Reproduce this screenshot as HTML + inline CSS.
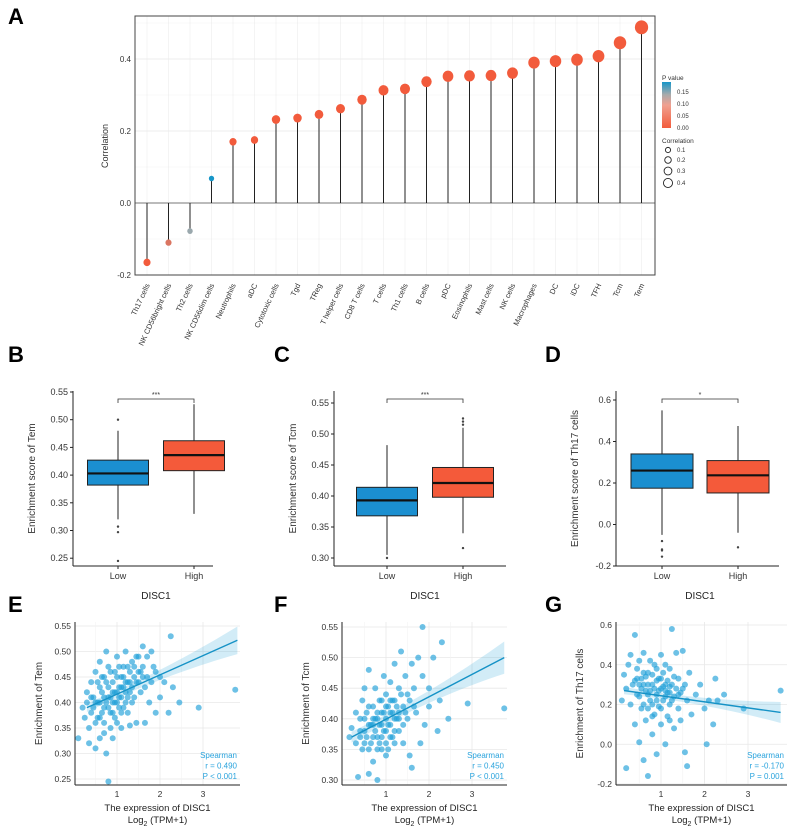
<!DOCTYPE html>
<html><head><meta charset="utf-8"><style>
body{margin:0;background:#fff}
svg{display:block;font-family:"Liberation Sans",sans-serif}
</style></head><body>
<svg id="fig" width="789" height="832" viewBox="0 0 789 832"></svg>
<script>
// ---- Panel A data ----
const cells=["Th17 cells","NK CD56bright cells","Th2 cells","NK CD56dim cells","Neutrophils","aDC","Cytotoxic cells","Tgd","TReg","T helper cells","CD8 T cells","T cells","Th1 cells","B cells","pDC","Eosinophils","Mast cells","NK cells","Macrophages","DC","iDC","TFH","Tcm","Tem"];
const corrs=[-0.165,-0.11,-0.078,0.068,0.17,0.175,0.232,0.236,0.246,0.262,0.287,0.313,0.317,0.337,0.352,0.353,0.354,0.361,0.39,0.394,0.398,0.408,0.445,0.488];
const pvals=[0.0,0.03,0.10,0.18,0,0,0,0,0,0,0,0,0,0,0,0,0,0,0,0,0,0,0,0];
const aTicks=[-0.2,0.0,0.2,0.4];
// ---- Box data [min,q1,med,q3,max] ----
const boxB_low=[0.32,0.382,0.403,0.427,0.48], boxB_high=[0.33,0.408,0.436,0.462,0.528];
const outB_low=[0.50,0.307,0.297,0.245], outB_high=[];
const boxC_low=[0.305,0.368,0.393,0.414,0.482], boxC_high=[0.34,0.398,0.421,0.446,0.51];
const outC_low=[0.30], outC_high=[0.515,0.52,0.525,0.316];
const boxD_low=[-0.05,0.175,0.26,0.34,0.55], boxD_high=[-0.04,0.152,0.237,0.308,0.475];
const outD_low=[-0.08,-0.12,-0.125,-0.155], outD_high=[-0.11];
const ticksB=[0.25,0.30,0.35,0.40,0.45,0.50,0.55], ticksC=[0.30,0.35,0.40,0.45,0.50,0.55], ticksD=[-0.2,0.0,0.2,0.4,0.6];
// ---- Scatter data ----
const ptsE=[[0.1,.33],[0.2,.39],[0.25,.37],[0.3,.40],[0.3,.42],[0.35,.35],[0.4,.38],[0.4,.44],[0.45,.41],[0.5,.31],[0.5,.36],[0.5,.46],[0.55,.40],[0.6,.33],[0.6,.43],[0.6,.48],[0.65,.38],[0.7,.41],[0.7,.45],[0.7,.36],[0.75,.30],[0.75,.50],[0.8,.39],[0.8,.43],[0.8,.47],[0.85,.35],[0.85,.41],[0.9,.44],[0.9,.38],[0.9,.33],[0.95,.42],[0.95,.46],[1.0,.40],[1.0,.36],[1.0,.49],[1.05,.43],[1.05,.39],[1.1,.45],[1.1,.41],[1.1,.35],[1.15,.47],[1.15,.43],[1.2,.40],[1.2,.50],[1.25,.44],[1.25,.38],[1.3,.46],[1.3,.42],[1.35,.48],[1.4,.41],[1.4,.45],[1.45,.36],[1.5,.44],[1.5,.49],[1.55,.42],[1.6,.47],[1.6,.51],[1.65,.36],[1.7,.45],[1.75,.40],[1.8,.50],[1.85,.47],[1.9,.38],[2.0,.45],[2.0,.41],[2.1,.44],[2.2,.38],[2.25,.53],[2.3,.43],[2.45,.40],[2.9,.39],[3.75,.425],[0.8,.245],[0.35,.32],[1.3,.355],[0.6,.40],[1.0,.45],[1.2,.42],[0.7,.34],[1.5,.46],[0.4,.41],[0.9,.42],[1.1,.38],[0.55,.44],[1.35,.40],
[0.45,.39],[0.55,.37],[0.65,.42],[0.75,.40],[0.75,.44],[0.85,.38],[0.85,.46],[0.95,.40],[0.95,.37],[1.05,.41],[1.05,.47],[1.15,.39],[1.15,.45],[1.25,.41],[1.25,.47],[1.35,.43],[1.45,.44],[1.45,.49],[1.55,.46],[1.65,.43],[1.7,.49],[1.8,.44],[0.65,.45],[0.9,.40],[1.0,.42],[1.1,.43],[1.2,.44],[0.8,.41],[0.7,.39],[0.6,.37],[0.5,.40],[1.3,.44],[1.4,.47],[1.6,.45],[1.9,.46]];
const ptsF=[[0.15,.37],[0.2,.385],[0.3,.36],[0.3,.41],[0.35,.305],[0.4,.38],[0.45,.35],[0.45,.43],[0.5,.40],[0.5,.45],[0.55,.37],[0.6,.31],[0.6,.39],[0.6,.48],[0.65,.36],[0.7,.42],[0.7,.33],[0.75,.40],[0.75,.45],[0.8,.30],[0.8,.37],[0.85,.39],[0.85,.43],[0.9,.35],[0.9,.41],[0.95,.38],[0.95,.47],[1.0,.40],[1.0,.36],[1.0,.44],[1.05,.42],[1.05,.35],[1.1,.39],[1.1,.46],[1.15,.41],[1.15,.37],[1.2,.43],[1.2,.49],[1.25,.40],[1.3,.45],[1.3,.38],[1.35,.51],[1.4,.42],[1.4,.36],[1.45,.47],[1.5,.44],[1.5,.40],[1.55,.34],[1.6,.49],[1.6,.32],[1.65,.45],[1.7,.41],[1.75,.50],[1.8,.36],[1.85,.55],[1.85,.47],[1.9,.39],[2.0,.45],[2.0,.42],[2.1,.50],[2.2,.38],[2.25,.43],[2.3,.525],[2.45,.40],[2.9,.425],[3.75,.417],[1.1,.43],[0.9,.37],[1.3,.41],[0.7,.39],[0.4,.40],[0.6,.35],[0.8,.41],[1.0,.38],[1.2,.36],
[0.4,.37],[0.5,.38],[0.55,.41],[0.65,.39],[0.7,.37],[0.75,.38],[0.8,.40],[0.85,.36],[0.9,.39],[0.95,.41],[1.0,.42],[1.05,.39],[1.1,.41],[1.15,.43],[1.2,.40],[1.25,.42],[1.3,.40],[1.35,.44],[1.45,.41],[1.55,.43],[0.6,.42],[0.8,.35],[1.0,.34],[1.2,.38],[0.9,.43],[0.5,.36],[0.7,.40],[1.1,.37],[1.4,.39],[1.65,.42]];
const ptsG=[[0.1,.22],[0.15,.35],[0.2,.28],[0.2,-.12],[0.25,.40],[0.3,.45],[0.3,.20],[0.35,.30],[0.4,.55],[0.4,.10],[0.45,.25],[0.45,.38],[0.5,.42],[0.5,.01],[0.55,.18],[0.55,.33],[0.6,.46],[0.6,-.08],[0.65,.27],[0.65,.12],[0.7,.36],[0.7,-.16],[0.75,.22],[0.75,.42],[0.8,.30],[0.8,.05],[0.85,.15],[0.85,.40],[0.9,.25],[0.9,-.05],[0.95,.33],[0.95,.19],[1.0,.28],[1.0,.10],[1.0,.45],[1.05,.22],[1.05,.36],[1.1,.30],[1.1,.00],[1.15,.26],[1.15,.14],[1.2,.38],[1.2,.20],[1.25,.58],[1.25,.30],[1.3,.08],[1.3,.24],[1.35,.46],[1.4,.18],[1.4,.33],[1.45,.12],[1.5,.28],[1.5,.47],[1.55,-.04],[1.6,.22],[1.6,-.11],[1.65,.36],[1.7,.15],[1.8,.25],[1.9,.30],[2.0,.18],[2.05,0.0],[2.1,.22],[2.2,.10],[2.25,.33],[2.3,.22],[2.45,.25],[2.9,.18],[3.75,.27],[0.9,.32],[1.1,.27],[0.7,.25],[0.5,.30],[0.8,.20],[1.2,.29],[0.6,.36],
[0.4,.32],[0.5,.24],[0.55,.28],[0.6,.30],[0.65,.34],[0.7,.30],[0.75,.27],[0.8,.35],[0.85,.28],[0.9,.22],[0.95,.27],[1.0,.33],[1.05,.29],[1.1,.24],[1.15,.32],[1.2,.26],[1.25,.22],[1.3,.34],[1.35,.28],[1.45,.26],[0.6,.20],[0.8,.14],[1.0,.18],[1.2,.12],[0.7,.18],[0.9,.38],[1.1,.40],[0.45,.33],[1.4,.25],[1.55,.30]];
const fitE=[0.3,0.39,3.8,0.522], fitF=[0.2,0.37,3.75,0.5], fitG=[0.15,0.27,3.75,0.16];
const statE=["Spearman","r = 0.490","P < 0.001"], statF=["Spearman","r = 0.450","P < 0.001"], statG=["Spearman","r = -0.170","P = 0.001"];
const xTicksS=[1,2,3];

const NS="http://www.w3.org/2000/svg", svg=document.getElementById('fig');
function el(t,a,p){const e=document.createElementNS(NS,t);for(const k in a)e.setAttribute(k,a[k]);(p||svg).appendChild(e);return e;}
function tx(s,x,y,a,p){const e=el('text',Object.assign({x:x,y:y},a),p);e.textContent=s;return e;}

[["A",8,24],["B",8,362],["C",274,362],["D",545,362],["E",8,612],["F",274,612],["G",545,612]].forEach(l=>{
 const t=tx(l[0],l[1],l[2],{"font-size":22,"font-weight":"bold",fill:"#000"});
 
 
});

// ---- Panel A ----
const gA=el('g',{});


const aL=135,aR=655,aT=16,aB=275;
const ay=v=>203-v/0.2*72, ax=i=>147+i*21.5;
el('rect',{x:aL,y:aT,width:aR-aL,height:aB-aT,fill:"#fff"},gA);
aTicks.forEach(v=>{el('line',{x1:aL,x2:aR,y1:ay(v),y2:ay(v),stroke:"#e6e6e6","stroke-width":0.8},gA);
 el('line',{x1:aL,x2:aR,y1:ay(v+0.1),y2:ay(v+0.1),stroke:"#f2f2f2","stroke-width":0.6},gA);
 const t=tx(v.toFixed(1),aL-4,ay(v)+3,{"font-size":8,"text-anchor":"end",fill:"#333"},gA);
 
 });
cells.forEach((c,i)=>el('line',{x1:ax(i),x2:ax(i),y1:aT,y2:aB,stroke:"#ededed","stroke-width":0.6},gA));
el('line',{x1:aL,x2:aR,y1:ay(0),y2:ay(0),stroke:"#777","stroke-width":1},gA);
el('rect',{x:aL,y:aT,width:aR-aL,height:aB-aT,fill:"none",stroke:"#444","stroke-width":1},gA);
function pcol(p){const t=Math.min(p/0.18,1);
 if(t<0.5){const u=t/0.5;return `rgb(${Math.round(242+(170-242)*u)},${Math.round(91+(170-91)*u)},${Math.round(60+(170-60)*u)})`;}
 const u=(t-0.5)/0.5;return `rgb(${Math.round(170+(23-170)*u)},${Math.round(170+(150-170)*u)},${Math.round(170+(200-170)*u)})`;}
cells.forEach((c,i)=>{
 const x=ax(i);
 const st=el('line',{x1:x,x2:x,y1:ay(0),y2:ay(corrs[i]),stroke:"#222","stroke-width":1},gA);
 
 
 const r=2+9.5*Math.abs(corrs[i]);
 const d=el('ellipse',{cx:x,cy:ay(corrs[i]),rx:r,ry:r*1.05,fill:pcol(pvals[i])},gA);
 
 
 const t=tx(c,x+3,aB+10,{"font-size":7.5,"text-anchor":"end",fill:"#333",transform:`rotate(-65 ${x+3} ${aB+10})`},gA);
 
 
});
const aYT=tx("Correlation",108,146,{"font-size":9,"text-anchor":"middle",fill:"#333",transform:"rotate(-90 108 146)"},gA);


const gL=el('g',{},gA);


tx("P value",662,80,{"font-size":6.5,fill:"#333"},gL);
const defs=el('defs',{});
const lg=el('linearGradient',{id:"pg",x1:0,y1:1,x2:0,y2:0},defs);
el('stop',{offset:"0",  "stop-color":"#f25b3c"},lg);el('stop',{offset:"0.5","stop-color":"#f0a090"},lg);el('stop',{offset:"0.72","stop-color":"#aaaaaa"},lg);el('stop',{offset:"1","stop-color":"#1796c8"},lg);
el('rect',{x:662,y:82,width:9,height:46,fill:"url(#pg)"},gL);
[["0.15",92],["0.10",104],["0.05",116],["0.00",128]].forEach(a=>tx(a[0],677,a[1]+2,{"font-size":6,fill:"#333"},gL));
tx("Correlation",662,143,{"font-size":6.5,fill:"#333"},gL);
[[0.1,150],[0.2,160],[0.3,171],[0.4,183]].forEach(a=>{const r=2+8.5*a[0]*0.75;el('circle',{cx:668,cy:a[1],r:r,fill:"none",stroke:"#222","stroke-width":0.9},gL);tx(String(a[0]),677,a[1]+2,{"font-size":6,fill:"#333"},gL);});

// ---- Box panels ----
function boxPanel(name,axL,axR,top,bot,yf,ticks,dec,low,high,outL,outH,xl,xh,bw,sig,ytitle){
 const g=el('g',{});
 
 
 el('line',{x1:axL,x2:axL,y1:top,y2:bot,stroke:"#222","stroke-width":1},g);
 el('line',{x1:axL,x2:axR,y1:bot,y2:bot,stroke:"#222","stroke-width":1},g);
 ticks.forEach(v=>{el('line',{x1:axL-3,x2:axL,y1:yf(v),y2:yf(v),stroke:"#222"},g);
  const t=tx(v.toFixed(dec),axL-5,yf(v)+3,{"font-size":9,"text-anchor":"end",fill:"#333"},g);
  
  });
 [[low,outL,xl,"#1b8fd0","Low"],[high,outH,xh,"#f45a3a","High"]].forEach(b=>{
  const [s,o,cx,col,lab]=b;
  el('line',{x1:cx,x2:cx,y1:yf(s[0]),y2:yf(s[4]),stroke:"#222","stroke-width":1},g);
  const r=el('rect',{x:cx-bw/2,y:yf(s[3]),width:bw,height:yf(s[1])-yf(s[3]),fill:col,stroke:"#222","stroke-width":1},g);
  
  
  el('line',{x1:cx-bw/2,x2:cx+bw/2,y1:yf(s[2]),y2:yf(s[2]),stroke:"#111","stroke-width":2.2},g);
  o.forEach(v=>el('circle',{cx:cx,cy:yf(v),r:1.2,fill:"#444"},g));
  el('line',{x1:cx,x2:cx,y1:bot,y2:bot+3,stroke:"#222"},g);
  const t=tx(lab,cx,bot+13,{"font-size":9,"text-anchor":"middle",fill:"#333"},g);
  
  
 });
 const by=top+8;
 el('path',{d:`M${xl} ${by+4}V${by}H${xh}V${by+4}`,fill:"none",stroke:"#333","stroke-width":0.8},g);
 tx(sig,(xl+xh)/2,by-2,{"font-size":7,"text-anchor":"middle",fill:"#333"},g);
 const xt=tx("DISC1",(xl+xh)/2,bot+33,{"font-size":10,"text-anchor":"middle",fill:"#222"},g);
 
 
 const yx=axL-38, yc=(top+bot)/2;
 const yt=tx(ytitle,yx,yc,{"font-size":10,"text-anchor":"middle",fill:"#333",transform:`rotate(-90 ${yx} ${yc})`},g);
 
 
}
boxPanel('boxplot-tem',73,213,391,566,v=>392+(0.55-v)/0.05*27.7,ticksB,2,boxB_low,boxB_high,outB_low,outB_high,118,194,61,"***","Enrichment score of Tem");
boxPanel('boxplot-tcm',334,506,391,566,v=>403+(0.55-v)/0.25*155,ticksC,2,boxC_low,boxC_high,outC_low,outC_high,387,463,61,"***","Enrichment score of Tcm");
boxPanel('boxplot-th17',616,779,391,566,v=>400+(0.6-v)/0.8*166,ticksD,1,boxD_low,boxD_high,outD_low,outD_high,662,738,62,"*","Enrichment score of Th17 cells");

// ---- Scatter panels ----
function scat(name,L,R,T,B,xf,yf,yTicks,dec,pts,fit,stat,ytitle,bw){
 const g=el('g',{});
 
 
 el('rect',{x:L,y:T,width:R-L,height:B-T,fill:"#fff"},g);
 yTicks.forEach(v=>{el('line',{x1:L,x2:R,y1:yf(v),y2:yf(v),stroke:"#e8e8e8","stroke-width":0.8},g);
  const t=tx(v.toFixed(dec),L-4,yf(v)+3,{"font-size":8.5,"text-anchor":"end",fill:"#333"},g);
  
  });
 xTicksS.forEach(v=>{el('line',{x1:xf(v),x2:xf(v),y1:T,y2:B,stroke:"#e8e8e8","stroke-width":0.8},g);
  el('line',{x1:xf(v-0.5),x2:xf(v-0.5),y1:T,y2:B,stroke:"#f3f3f3","stroke-width":0.6},g);
  const t=tx(String(v),xf(v),B+12,{"font-size":8.5,"text-anchor":"middle",fill:"#333"},g);
  
  });
 pts.forEach(p=>{const c=el('circle',{cx:xf(p[0]),cy:yf(p[1]),r:3,fill:"#1ea0d8","fill-opacity":0.65},g);
  
  });
 const [x0,y0,x1,y1]=fit, xm=1.0, top=[],bo=[];
 for(let k=0;k<=20;k++){const xv=x0+(x1-x0)*k/20, yv=y0+(y1-y0)*(xv-x0)/(x1-x0), h=bw*(0.15+0.05*(xv-xm)*(xv-xm));
  top.push(xf(xv)+','+yf(yv+h)); bo.unshift(xf(xv)+','+yf(yv-h));}
 el('polygon',{points:top.concat(bo).join(' '),fill:"#1ea0d8","fill-opacity":0.2},g);
 const fl=el('line',{x1:xf(x0),y1:yf(y0),x2:xf(x1),y2:yf(y1),stroke:"#1592c6","stroke-width":1.4},g);
 
 
 el('line',{x1:L,x2:L,y1:T,y2:B,stroke:"#222"},g);
 el('line',{x1:L,x2:R,y1:B,y2:B,stroke:"#222"},g);
 stat.forEach((s,i)=>{const t=tx(s,R-3,B-27+i*10.5,{"font-size":8,"text-anchor":"end",fill:"#29a3dd"},g);
  
  });
 const cx=(L+R)/2;
 const t1=tx("The expression of DISC1",cx,B+26,{"font-size":9.5,"text-anchor":"middle",fill:"#222"},g);
 
 
 const t2=el('text',{x:cx,y:B+38,"font-size":9.5,"text-anchor":"middle",fill:"#222"},g);
 t2.innerHTML='Log<tspan font-size="7" dy="3">2</tspan><tspan dy="-3"> (TPM+1)</tspan>';
 const yx=L-33, yc=(T+B)/2;
 const yt=tx(ytitle,yx,yc,{"font-size":10,"text-anchor":"middle",fill:"#333",transform:`rotate(-90 ${yx} ${yc})`},g);
 
 
}
scat('scatter-tem',75,240,622,785,v=>117+(v-1)*43,v=>626+(0.55-v)/0.3*153,[0.25,0.30,0.35,0.40,0.45,0.50,0.55],2,ptsE,fitE,statE,"Enrichment of Tem",0.05);
scat('scatter-tcm',342,507,622,785,v=>386+(v-1)*43,v=>627+(0.55-v)/0.25*153,[0.30,0.35,0.40,0.45,0.50,0.55],2,ptsF,fitF,statF,"Enrichment of Tcm",0.05);
scat('scatter-th17',616,787,622,785,v=>661+(v-1)*43.5,v=>625+(0.6-v)/0.8*159,[-0.2,0.0,0.2,0.4,0.6],1,ptsG,fitG,statG,"Enrichment of Th17 cells",0.1);
</script>
</body></html>
